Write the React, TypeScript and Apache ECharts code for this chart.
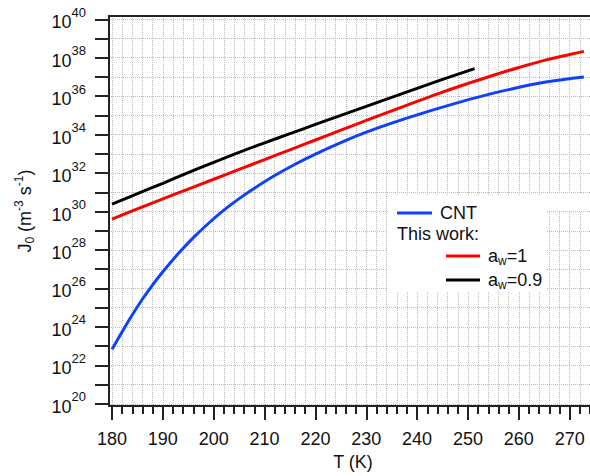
import React, { useEffect, useRef } from "react";
import * as echarts from "echarts";

// Temperature (K) and log10(J0 / m^-3 s^-1)
const cntT = [180, 182, 184, 186, 188, 190, 193, 196, 199, 202, 205, 208, 212, 216, 220, 225, 230, 235, 240, 246, 252, 258, 265, 272.8];
const cntLogJ = [22.83, 23.75, 24.63, 25.45, 26.19, 26.87, 27.8, 28.64, 29.39, 30.07, 30.67, 31.21, 31.87, 32.46, 32.99, 33.59, 34.13, 34.6, 35.03, 35.51, 35.95, 36.34, 36.72, 37.0];

const aw1T = [180, 185, 190, 195, 200, 205, 210, 215, 220, 225, 230, 235, 240, 245, 250, 255, 260, 265, 270, 272.8];
const aw1LogJ = [29.61, 30.14, 30.66, 31.17, 31.68, 32.19, 32.7, 33.21, 33.72, 34.23, 34.74, 35.24, 35.73, 36.21, 36.66, 37.09, 37.49, 37.86, 38.17, 38.33];

const aw09T = [180, 185, 190, 195, 200, 205, 210, 215, 220, 225, 230, 235, 240, 245, 251.3];
const aw09LogJ = [30.39, 30.93, 31.47, 32.02, 32.56, 33.08, 33.57, 34.05, 34.53, 35.0, 35.47, 35.94, 36.41, 36.87, 37.43];

const xMajorTicks = [180, 190, 200, 210, 220, 230, 240, 250, 260, 270];
const xMinorTicks = [180, 182, 184, 186, 188, 190, 192, 194, 196, 198, 200, 202, 204, 206, 208, 210, 212, 214, 216, 218, 220, 222, 224, 226, 228, 230, 232, 234, 236, 238, 240, 242, 244, 246, 248, 250, 252, 254, 256, 258, 260, 262, 264, 266, 268, 270, 272, 274];
const yTicks = [20, 21, 22, 23, 24, 25, 26, 27, 28, 29, 30, 31, 32, 33, 34, 35, 36, 37, 38, 39, 40];
const yLabelTicks = [20, 22, 24, 26, 28, 30, 32, 34, 36, 38, 40];

const seriesNames = ["CNT", "a_w=1", "a_w=0.9"];
const seriesColors = ["#1040ff", "#ff0000", "#000000"];

const FONT = "'Liberation Sans', Arial, Helvetica, sans-serif";
const AXIS = "#222222";
const GRID = "#bcbcbc";
const X_MIN = 179.41;
const X_MAX = 274.0;

function pairs(xs: number[], ys: number[]) {
  return xs.map((x, i) => [x, ys[i]]);
}

export default function App() {
  const ref = useRef<HTMLDivElement>(null);
  useEffect(() => {
    if (!ref.current) return;
    const chart = echarts.init(ref.current, undefined, { renderer: "svg" });
    const lineSeries = (i: number, data: number[][]) => ({
      type: "line",
      name: seriesNames[i],
      data,
      xAxisIndex: 0,
      yAxisIndex: 0,
      showSymbol: false,
      smooth: 0.4,
      lineStyle: { color: seriesColors[i], width: 3 },
      itemStyle: { color: seriesColors[i] },
      z: 5,
    });
    const subRich = {
      a: { fontSize: 18, fontFamily: FONT, color: "#111" },
      w: { fontSize: 12, fontFamily: FONT, color: "#111", padding: [9, 0, 0, 0] },
    };
    chart.setOption({
      animation: false,
      backgroundColor: "#ffffff",
      textStyle: { fontFamily: FONT },
      grid: { left: 109, right: 0, top: 16, bottom: 68, containLabel: false },
      xAxis: [
        {
          type: "value",
          min: X_MIN,
          max: X_MAX,
          position: "bottom",
          name: "T (K)",
          nameLocation: "middle",
          nameGap: 46,
          nameTextStyle: { fontSize: 18, color: "#111", fontFamily: FONT, padding: [0, 0, 0, 7] },
          axisLine: { show: true, onZero: false, lineStyle: { color: AXIS, width: 2 } },
          axisTick: { show: true, customValues: xMajorTicks, length: 14, lineStyle: { color: AXIS, width: 2 } },
          axisLabel: { show: true, customValues: xMajorTicks, margin: 24, fontSize: 18, color: "#111", fontFamily: FONT },
          splitLine: { show: false },
        },
        {
          type: "value",
          min: X_MIN,
          max: X_MAX,
          position: "bottom",
          axisLine: { show: false, onZero: false },
          axisTick: { show: true, customValues: xMinorTicks, length: 8, lineStyle: { color: AXIS, width: 2 } },
          axisLabel: { show: false },
          splitLine: { show: true, lineStyle: { color: GRID, width: 1, type: "dotted" } },
        },
        {
          type: "value",
          min: X_MIN,
          max: X_MAX,
          position: "top",
          axisLine: { show: true, onZero: false, lineStyle: { color: AXIS, width: 2 } },
          axisTick: { show: false },
          axisLabel: { show: false },
          splitLine: { show: false },
        },
      ],
      yAxis: {
        type: "value",
        min: 19.88,
        max: 40.17,
        name: "{n|J}{sub|0}{n| (m}{sup|-3}{n| s}{sup|-1}{n|)}",
        nameLocation: "middle",
        nameRotate: 90,
        nameGap: 72,
        nameTextStyle: {
          color: "#111",
          rich: {
            n: { fontSize: 18, fontFamily: FONT, color: "#111" },
            sub: { fontSize: 12, fontFamily: FONT, color: "#111", padding: [9, 0, 0, 0] },
            sup: { fontSize: 12, fontFamily: FONT, color: "#111", padding: [0, 0, 12, 0] },
          },
        },
        axisLine: { show: true, onZero: false, lineStyle: { color: AXIS, width: 2 } },
        axisTick: { show: true, customValues: yTicks, length: 14, lineStyle: { color: AXIS, width: 2 } },
        axisLabel: {
          show: true,
          customValues: yLabelTicks,
          margin: 23,
          formatter: (v: number) => `{b|10}{s|${Math.round(v)}}`,
          rich: {
            b: { fontSize: 18, fontFamily: FONT, color: "#111", padding: [6, 0, 0, 0] },
            s: { fontSize: 13, fontFamily: FONT, color: "#111", padding: [0, 0, 14, 0] },
          },
        },
        splitLine: { show: true, lineStyle: { color: GRID, width: 1, type: "dotted" } },
      },
      graphic: [
        { type: "rect", z: 50, shape: { x: 387, y: 195, width: 160, height: 97 }, style: { fill: "#ffffff" } },
        { type: "rect", z: 50, shape: { x: 545, y: 194, width: 45, height: 17 }, style: { fill: "#ffffff" } },
        { type: "line", z: 51, shape: { x1: 397, y1: 213, x2: 432, y2: 213 }, style: { stroke: seriesColors[0], lineWidth: 3 } },
        {
          type: "text", z: 51, x: 440, y: 213,
          style: { text: "CNT", fontSize: 18, fontFamily: FONT, fill: "#111", align: "left", verticalAlign: "middle" },
        },
        {
          type: "text", z: 51, x: 397, y: 234,
          style: { text: "This work:", fontSize: 18, fontFamily: FONT, fill: "#111", align: "left", verticalAlign: "middle" },
        },
        { type: "line", z: 51, shape: { x1: 446, y1: 256, x2: 480, y2: 256 }, style: { stroke: seriesColors[1], lineWidth: 3 } },
        {
          type: "text", z: 51, x: 488, y: 256,
          style: { text: "{a|a}{w|w}{a|=1}", rich: subRich, fill: "#111", align: "left", verticalAlign: "middle" },
        },
        { type: "line", z: 51, shape: { x1: 446, y1: 280, x2: 480, y2: 280 }, style: { stroke: seriesColors[2], lineWidth: 3 } },
        {
          type: "text", z: 51, x: 488, y: 280,
          style: { text: "{a|a}{w|w}{a|=0.9}", rich: subRich, fill: "#111", align: "left", verticalAlign: "middle" },
        },
      ],
      series: [
        lineSeries(0, pairs(cntT, cntLogJ)),
        lineSeries(1, pairs(aw1T, aw1LogJ)),
        lineSeries(2, pairs(aw09T, aw09LogJ)),
      ],
    });
    return () => chart.dispose();
  }, []);
  return (
    <div
      ref={ref}
      style={{ position: "fixed", left: 0, top: 0, width: 590, height: 476, background: "#fff" }}
    />
  );
}
